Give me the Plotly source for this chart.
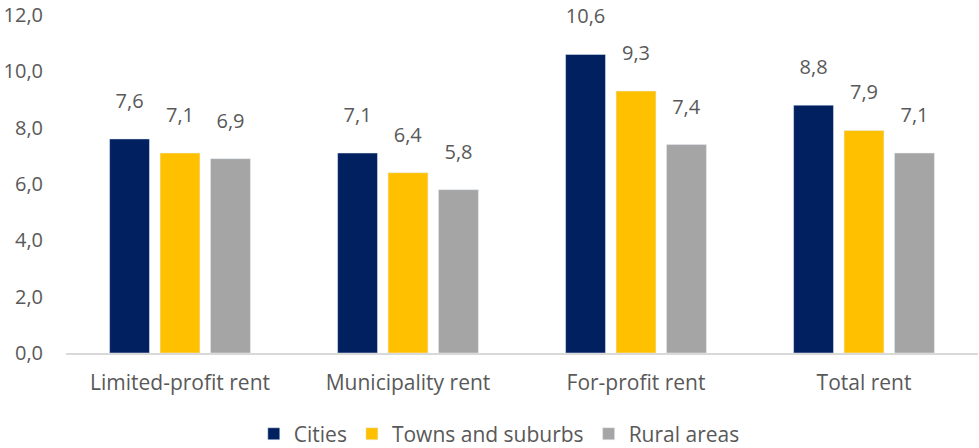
import plotly.graph_objects as go

categories = ["Limited-profit rent", "Municipality rent", "For-profit rent", "Total rent"]
cities = [7.6, 7.1, 10.6, 8.8]
towns = [7.1, 6.4, 9.3, 7.9]
rural = [6.9, 5.8, 7.4, 7.1]
series_names = ["Cities", "Towns and suburbs", "Rural areas"]
colors = ["#002060", "#FFC000", "#A5A5A5"]
tick_vals = [0, 2, 4, 6, 8, 10, 12]
tick_text = ["0,0", "2,0", "4,0", "6,0", "8,0", "10,0", "12,0"]

FONT = "Open Sans, sans-serif"
TXT = "#595959"
FS = 20

fig = go.Figure()
for name, vals, col in zip(series_names, [cities, towns, rural], colors):
    fig.add_trace(go.Bar(
        x=categories, y=vals, name=name, marker_color=col,
        text=[f"{v:.1f}".replace(".", ",") + "<br><span style='font-size:8px'> </span>" for v in vals],
        textposition="outside", cliponaxis=False,
        textfont=dict(size=FS, color=TXT, family=FONT),
    ))

fig.update_layout(
    width=979, height=448,
    margin=dict(l=66, r=1, t=15, b=95, autoexpand=False),
    barmode="group", bargap=0.336, bargroupgap=0.21,
    plot_bgcolor="white", paper_bgcolor="white",
    font=dict(family=FONT, size=FS, color=TXT),
    legend=dict(orientation="h", xref="container", x=0.51, xanchor="center",
                yref="container", y=0.031, yanchor="middle",
                font=dict(size=21, color=TXT), itemwidth=30, traceorder="normal"),
    xaxis=dict(showline=True, linecolor="#D9D9D9", linewidth=2, ticks="",
               tickfont=dict(size=21, color=TXT), automargin=False,
               ticklabelstandoff=10),
    yaxis=dict(range=[0, 12], tickvals=tick_vals, ticktext=tick_text,
               showgrid=False, zeroline=False, showline=False, automargin=False,
               tickfont=dict(size=FS, color=TXT), ticklabelstandoff=22),
)
fig.write_html("out.html", config={"displayModeBar": False},
               post_script="document.body.style.margin='0';")
